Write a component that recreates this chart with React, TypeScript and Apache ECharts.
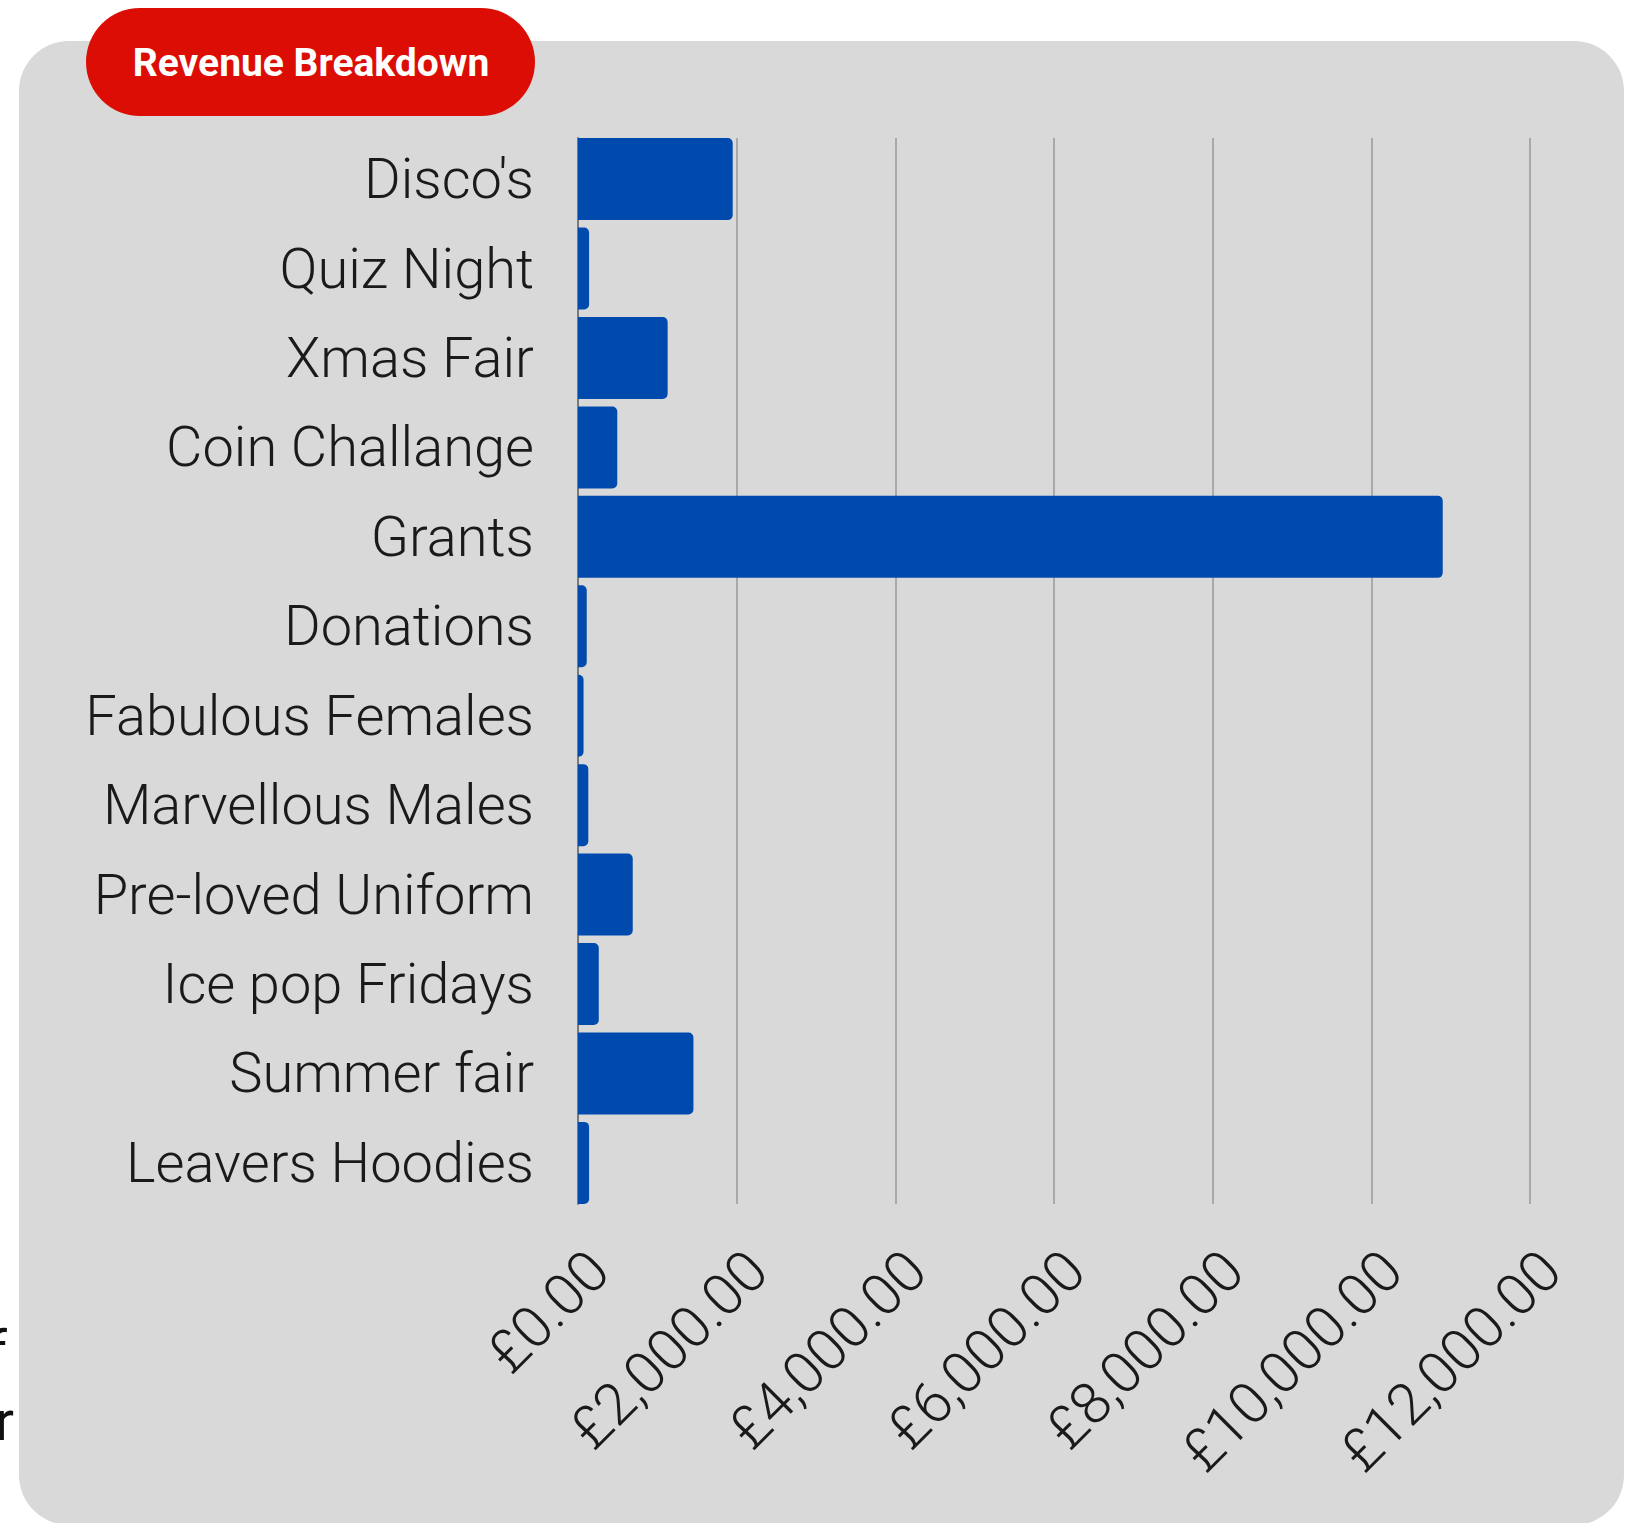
import React, { useEffect, useRef } from "react";
import * as echarts from "echarts";

const categories = [
  "Disco's",
  "Quiz Night",
  "Xmas Fair",
  "Coin Challange",
  "Grants",
  "Donations",
  "Fabulous Females",
  "Marvellous Males",
  "Pre-loved Uniform",
  "Ice pop Fridays",
  "Summer fair",
  "Leavers Hoodies",
];

const revenue = [1950, 140, 1130, 495, 10900, 110, 70, 130, 690, 262, 1455, 140];

const xTicks = { min: 0, max: 12000, interval: 2000 };

const titleText = "Revenue Breakdown";

const fmt = (v: number) =>
  "£" +
  v.toLocaleString("en-GB", { minimumFractionDigits: 2, maximumFractionDigits: 2 });

export default function App() {
  const ref = useRef<HTMLDivElement>(null);
  useEffect(() => {
    if (!ref.current) return;
    const chart = echarts.init(ref.current, null, { renderer: "svg" });
    chart.setOption({
      animation: false,
      graphic: [
        {
          type: "rect",
          z: -10,
          shape: { x: 19, y: 41, width: 1605, height: 1484, r: 50 },
          style: { fill: "#d9d9d9" },
        },
        {
          type: "text",
          z: -20,
          x: 7,
          y: 1351,
          style: {
            text: "f",
            fill: "#111",
            font: "400 56px Roboto",
            align: "right",
            verticalAlign: "middle",
          },
        },
        {
          type: "text",
          z: -20,
          x: 14,
          y: 1421,
          style: {
            text: "r",
            fill: "#111",
            font: "400 56px Roboto",
            align: "right",
            verticalAlign: "middle",
          },
        },
        {
          type: "rect",
          z: 10,
          shape: { x: 86, y: 8, width: 449, height: 108, r: 54 },
          style: { fill: "#dc0d05" },
        },
        {
          type: "text",
          z: 11,
          x: 311,
          y: 63,
          style: {
            text: titleText,
            fill: "#ffffff",
            font: "700 39px Roboto",
            align: "center",
            verticalAlign: "middle",
          },
        },
      ],
      grid: [
        { left: 578, right: 97, top: 134.4, bottom: 315.4, containLabel: false },
        { left: 578, right: 97, top: 138, bottom: 319, containLabel: false },
      ],
      xAxis: [
        {
          gridIndex: 0,
          type: "value",
          min: xTicks.min,
          max: xTicks.max,
          interval: xTicks.interval,
          show: false,
          splitLine: { show: false },
        },
        {
          gridIndex: 1,
          type: "value",
          min: xTicks.min,
          max: xTicks.max,
          interval: xTicks.interval,
          axisLine: { show: false },
          axisTick: { show: false },
          splitLine: { show: true, lineStyle: { color: "#a9a9a9", width: 2 } },
          axisLabel: {
            rotate: 45,
            margin: 36,
            verticalAlign: "top",
            fontSize: 58,
            fontFamily: "Roboto",
            fontWeight: 300,
            color: "#1a1a1a",
            formatter: fmt,
          },
        },
      ],
      yAxis: [
        {
          gridIndex: 0,
          type: "category",
          inverse: true,
          data: categories,
          axisTick: { show: false },
          axisLine: { show: false },
          axisLabel: {
            margin: 44,
            fontSize: 56,
            fontFamily: "Roboto",
            fontWeight: 300,
            color: "#1a1a1a",
            padding: [0, 0, 10, 0],
          },
        },
        {
          gridIndex: 1,
          type: "category",
          inverse: true,
          data: categories,
          axisTick: { show: false },
          axisLabel: { show: false },
          splitLine: { show: false },
          axisLine: { show: true, lineStyle: { color: "#7a7a7a", width: 2 } },
        },
      ],
      series: [
        {
          type: "bar",
          xAxisIndex: 0,
          yAxisIndex: 0,
          data: revenue,
          barCategoryGap: "8.3%",
          itemStyle: {
            color: "#004aad",
            borderRadius: [0, 5, 5, 0],
          },
        },
      ],
    });
    return () => chart.dispose();
  }, []);
  return (
    <div
      ref={ref}
      style={{ position: "absolute", left: 0, top: 0, width: 1627, height: 1523 }}
    />
  );
}
